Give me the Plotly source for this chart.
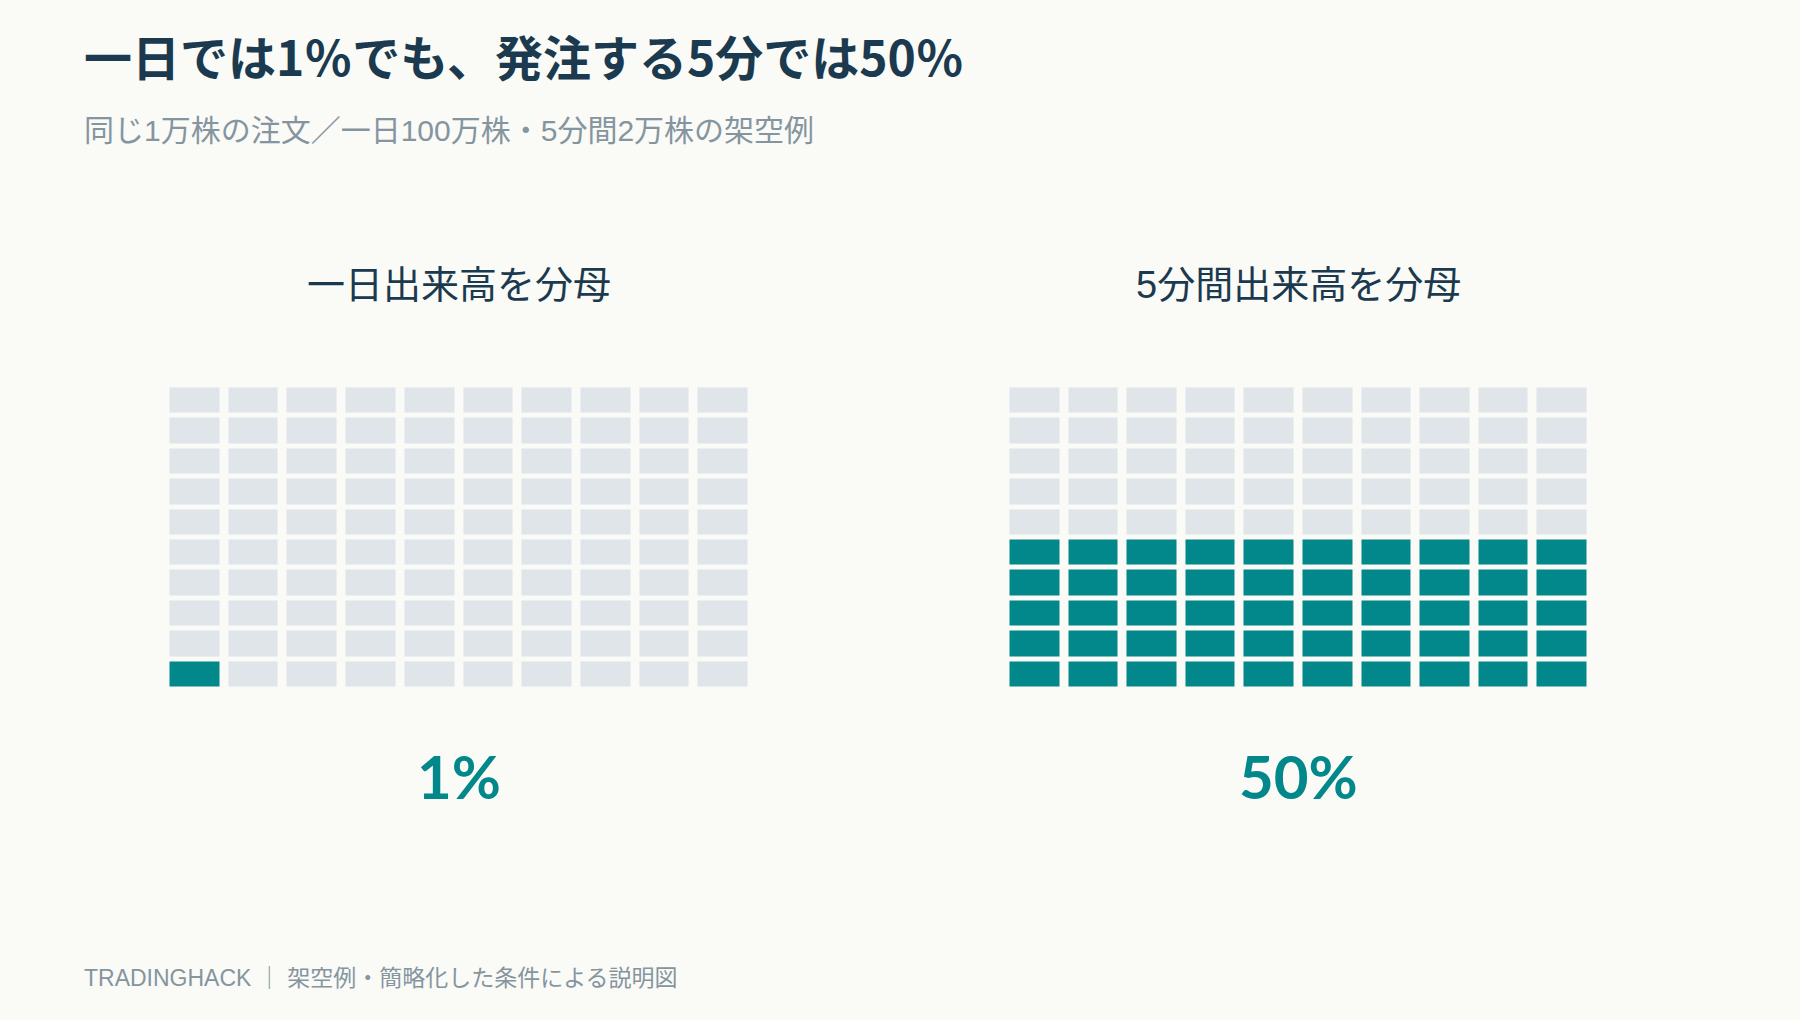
import plotly.graph_objects as go

# ---- data ----
panel_titles = ["一日出来高を分母", "5分間出来高を分母"]
percent_values = [1, 50]
percent_labels = ["1%", "50%"]
n_rows = 10
n_cols = 10

title_text = "一日では1％でも、発注する5分では50％"
subtitle_text = "同じ1万株の注文／一日100万株・5分間2万株の架空例"
footer_text = "TRADINGHACK ｜ 架空例・簡略化した条件による説明図"

# ---- style ----
W, H = 1800, 1020
BG = "#FAFAF6"
TEAL = "#02878A"
LIGHT = "#DFE5E8"
DARK = "#1B3A4F"
GREY = "#8595A0"
FONT_CJK = "Noto Sans CJK JP"
FONT_MIX = "Liberation Sans, Noto Sans CJK JP"
FONT_NUM = "Lato, Noto Sans CJK JP"

def grid(count):
    return [[1 if r * n_cols + c < count else 0 for c in range(n_cols)] for r in range(n_rows)]

def px_x(p):
    return p / W

def px_y(p):
    return 1 - p / H

fig = go.Figure()

x_domains = [(165.5, 752.5), (1005.5, 1591.5)]
y_domain = (385.5, 689.5)

for i, val in enumerate(percent_values):
    xa = "x" if i == 0 else "x2"
    ya = "y" if i == 0 else "y2"
    fig.add_trace(go.Heatmap(
        z=grid(val),
        x=list(range(n_cols)),
        y=list(range(n_rows)),
        colorscale=[[0, LIGHT], [1, TEAL]],
        zmin=0, zmax=1,
        showscale=False,
        xgap=9, ygap=5,
        hoverinfo="skip",
        xaxis=xa, yaxis=ya,
    ))

axis_common = dict(showgrid=False, zeroline=False, showticklabels=False, ticks="", showline=False, fixedrange=True)
fig.update_layout(
    xaxis=dict(domain=[px_x(x_domains[0][0]), px_x(x_domains[0][1])], range=[-0.5, n_cols - 0.5], anchor="y", **axis_common),
    yaxis=dict(domain=[px_y(y_domain[1]), px_y(y_domain[0])], range=[-0.5, n_rows - 0.5], anchor="x", **axis_common),
    xaxis2=dict(domain=[px_x(x_domains[1][0]), px_x(x_domains[1][1])], range=[-0.5, n_cols - 0.5], anchor="y2", **axis_common),
    yaxis2=dict(domain=[px_y(y_domain[1]), px_y(y_domain[0])], range=[-0.5, n_rows - 0.5], anchor="x2", **axis_common),
)

ann = []
ann.append(dict(text=title_text, x=px_x(82), y=px_y(55), xanchor="left", yanchor="middle",
                font=dict(family=FONT_CJK, size=48, color=DARK, weight="bold")))
ann.append(dict(text=subtitle_text, x=px_x(82), y=px_y(130), xanchor="left", yanchor="middle",
                font=dict(family=FONT_MIX, size=30, color=GREY)))
ann.append(dict(text=footer_text, x=px_x(82), y=px_y(978), xanchor="left", yanchor="middle",
                font=dict(family=FONT_MIX, size=23, color=GREY)))
for i in range(2):
    cx = (x_domains[i][0] + x_domains[i][1]) / 2
    ann.append(dict(text=panel_titles[i], x=px_x(cx), y=px_y(285), xanchor="center", yanchor="middle",
                    font=dict(family=FONT_MIX, size=38, color=DARK)))
    ann.append(dict(text=percent_labels[i], x=px_x(cx), y=px_y(776), xanchor="center", yanchor="middle",
                    font=dict(family=FONT_NUM, size=60, color=TEAL, weight="bold")))
for a in ann:
    a.update(xref="paper", yref="paper", showarrow=False)

fig.update_layout(
    annotations=ann,
    width=W, height=H,
    margin=dict(l=0, r=0, t=0, b=0),
    paper_bgcolor=BG, plot_bgcolor=BG,
    showlegend=False,
)

fig.write_html("out.html", config={"displayModeBar": False},
               post_script="document.body.style.margin='0';document.body.style.background='%s';" % BG)
